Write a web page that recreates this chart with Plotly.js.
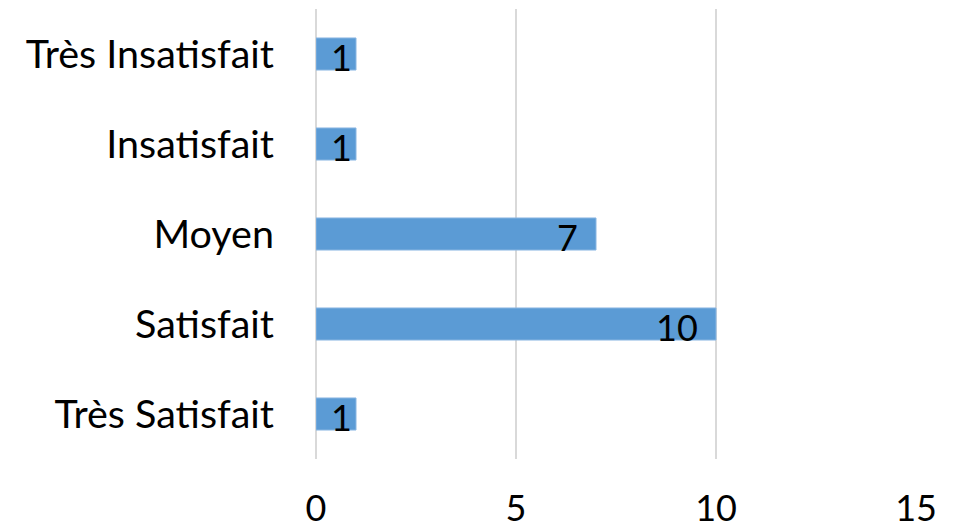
<!DOCTYPE html>
<html>
<head>
<meta charset="utf-8">
<script src="https://cdn.plot.ly/plotly-3.0.1.min.js"></script>
<style>html,body{margin:0;padding:0;background:#fff;}#chart{width:956px;height:530px;}</style>
</head>
<body>
<div id="chart"></div>
<script>
// Data (bottom to top)
const categories = ["Très Satisfait", "Satisfait", "Moyen", "Insatisfait", "Très Insatisfait"];
const counts = [1, 10, 7, 1, 1];
const xTickValues = [0, 5, 10, 15];

const FONT = "Lato, 'Open Sans', sans-serif";

const bar = {
  type: "bar",
  orientation: "h",
  x: counts,
  y: categories,
  marker: { color: "#5B9BD5", line: { color: "#8AB6E2", width: 1 } },
  hoverinfo: "x+y"
};

const annotations = counts.map((v, i) => ({
  x: v,
  y: categories[i],
  xref: "x",
  yref: "y",
  text: String(v),
  showarrow: false,
  xanchor: "right",
  yanchor: "middle",
  xshift: v < 2 ? -2 : -16,
  yshift: -3,
  font: { family: FONT, size: 36, color: "#000000" }
}));

const layout = {
  width: 956,
  height: 530,
  margin: { l: 316, r: 40, t: 9, b: 71, pad: 0 },
  paper_bgcolor: "#ffffff",
  plot_bgcolor: "#ffffff",
  showlegend: false,
  bargap: 0.644,
  font: { family: FONT, size: 36, color: "#000000" },
  xaxis: {
    range: [0, 15],
    tickvals: xTickValues,
    ticktext: xTickValues.map(String),
    showgrid: true,
    gridcolor: "#D9D9D9",
    gridwidth: 1.5,
    zeroline: true,
    zerolinecolor: "#D9D9D9",
    zerolinewidth: 1.5,
    showline: false,
    ticks: "",
    ticklabelstandoff: 25,
    tickfont: { family: FONT, size: 36, color: "#000000" }
  },
  yaxis: {
    type: "category",
    categoryorder: "array",
    categoryarray: categories,
    showgrid: false,
    zeroline: false,
    showline: false,
    ticks: "",
    ticklabelstandoff: 41,
    tickfont: { family: FONT, size: 39.5, color: "#000000" }
  },
  annotations: annotations
};

Plotly.newPlot("chart", [bar], layout, { displayModeBar: false, staticPlot: true });
</script>
</body>
</html>
